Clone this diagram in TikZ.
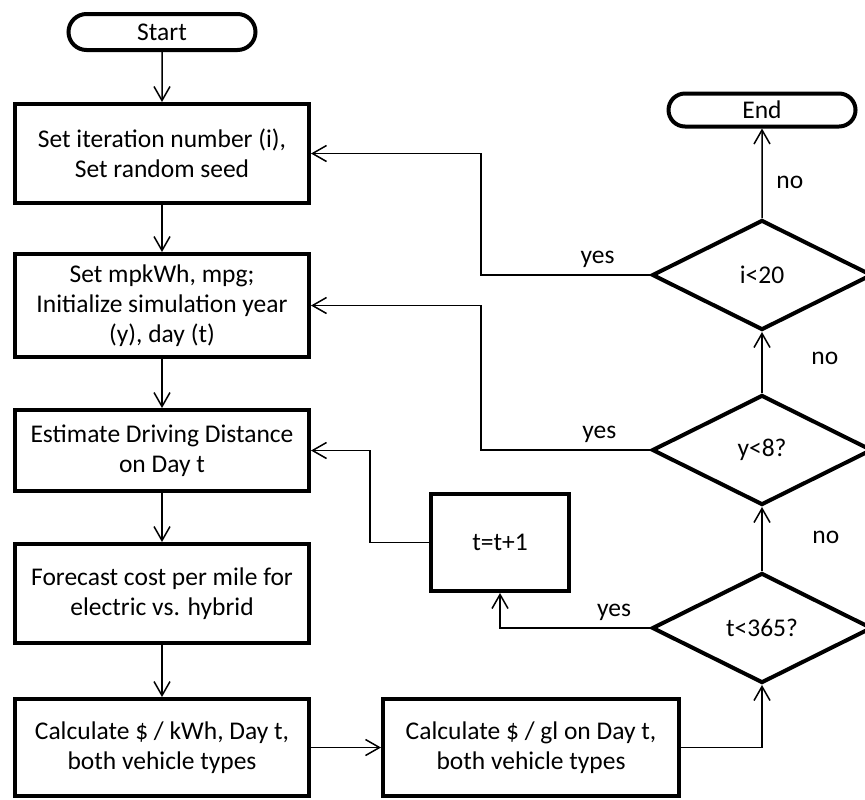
\documentclass[tikz,border=0pt]{standalone}
\usepackage{fontspec}
\setmainfont{Carlito}
\tikzstyle{terminal}=[rounded rectangle,line width=2pt,draw=black,minimum width=95.5pt,minimum height=18pt,inner sep=1pt]
\tikzstyle{process}=[rectangle,line width=2pt,draw=black,minimum width=147pt,minimum height=49.5pt,align=center,inner sep=2pt]
\tikzstyle{decision}=[diamond,line width=2pt,draw=black,aspect=2,minimum width=110pt,minimum height=55pt,inner sep=0pt]
\tikzstyle{flow}=[line width=0.75pt,-{Straight Barb[length=7pt,width=8pt]}]
\usetikzlibrary{positioning,shapes.misc,shapes.geometric,arrows.meta}

\begin{document}
\begin{tikzpicture}[x=0.5pt,y=-0.5pt,font=\fontsize{12.75}{15}\selectfont]
            \useasboundingbox (0,0) rectangle (865,799);

            % LEFT COLUMN

            \node[terminal] (s0) at (162,32) {Start};
            \node[process,below=25pt of s0] (b1) {Set iteration number (i),\\Set random seed};
            \node[process,below=23.5pt of b1,minimum height=51.5pt] (b2) {Set mpkWh, mpg;\\Initialize simulation year\\(y), day (t)};
            \node[process,below=24.5pt of b2,minimum height=40.5pt] (b3) {Estimate Driving Distance\\on Day t};
            \node[process,below=24.5pt of b3] (b4) {Forecast cost per mile for\\electric vs. hybrid};
            \node[process,below=26pt of b4,minimum height=48.5pt] (b5) {Calculate \$ / kWh, Day t,\\both vehicle types};
            \node[process,right=35pt of b5,minimum width=148pt,minimum height=48.5pt] (b6) {Calculate \$ / gl on Day t,\\both vehicle types};

            \path[flow] (s0) edge node {} (b1);
            \path[flow] (b1) edge node {} (b2);
            \path[flow] (b2) edge node {} (b3);
            \path[flow] (b3) edge node {} (b4);
            \path[flow] (b4) edge node {} (b5);
            \path[flow] (b5) edge node {} (b6);

            % LOOP PART

            \node[process,minimum width=69pt,minimum height=48.5pt] (b7) at (500,542.5) {t=t+1};
            \node[decision] (d3) at (762,628) {t<365?};
            \node[decision] (d2) at (762,450) {y<8?};
            \node[decision] (d1) at (762,275) {i<20};
            \node[terminal,minimum height=16.5pt] (s1) at (762,110) {End};

            \draw[flow] (b6) -| (d3);
            \draw[flow] (d3) -- node[pos=0.53,right=21.5pt] {no} (d2);
            \draw[flow] (d2) -- node[pos=0.57,right=21pt] {no} (d1);
            \draw[flow] (d1) -- node[pos=0.4,right=3.5pt] {no} (s1);

            % Back edges

            \draw[flow] (d3) -| node[pos=0.12,above] {yes} (b7);
            \draw[flow] (b7.west) -- ++(-59,0) |- (b3);
            \draw[flow] (d2.west) -- node[pos=0.3,above] {yes} ++(-169,0) |- (b2);
            \draw[flow] (d1.west) -- node[pos=0.31,above] {yes} ++(-169,0) |- (b1);

        \end{tikzpicture}
\end{document}
